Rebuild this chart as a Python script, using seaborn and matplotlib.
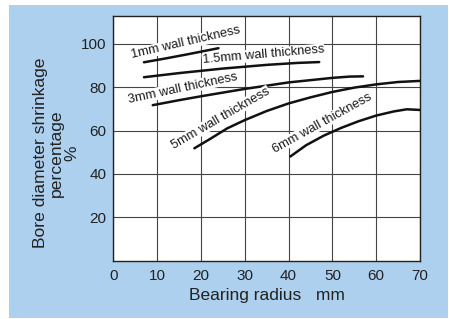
import pandas as pd
import matplotlib.pyplot as plt
import seaborn as sns
from matplotlib.patches import Rectangle

# Curve data
x_1mm = [7, 12, 17, 21, 24]
y_1mm = [91.5, 93.3, 95.2, 96.8, 98.0]

x_15mm = [7, 15, 25, 35, 42, 47]
y_15mm = [84.6, 86.5, 88.6, 90.3, 91.2, 91.6]

x_3mm = [9, 15, 20, 30, 40, 50, 54, 57]
y_3mm = [71.7, 74.0, 75.8, 79.2, 82.2, 84.3, 84.9, 85.0]

x_5mm = [18.5, 22, 26, 30, 35, 40, 45, 50, 55, 60, 65, 70]
y_5mm = [51.8, 56.0, 61.0, 64.8, 69.0, 72.5, 75.3, 77.8, 79.8, 81.3, 82.4, 82.9]

x_6mm = [40.4, 44, 48, 52, 56, 60, 64, 67, 70]
y_6mm = [48.0, 53.2, 57.6, 61.2, 64.3, 66.9, 68.8, 69.8, 69.5]

curve_labels = ["1mm wall thickness", "1.5mm wall thickness", "3mm wall thickness",
                "5mm wall thickness", "6mm wall thickness"]
x_ticks = [0, 10, 20, 30, 40, 50, 60, 70]
y_ticks = [20, 40, 60, 80, 100]

sns.set_theme(style="white")
plt.rcParams['font.family'] = ['Liberation Sans', 'DejaVu Sans']

fig = plt.figure(figsize=(4.49, 3.19), dpi=100, facecolor="white")
fig.patches.append(Rectangle((9 / 449, 1 - 318 / 319), 439 / 449, 313 / 319,
                             transform=fig.transFigure, facecolor="#add0ee",
                             edgecolor="none", zorder=-10))
ax = fig.add_axes([113.3 / 449, 1 - 260.5 / 319, 306.7 / 449, 244.8 / 319])
ax.set_facecolor("white")

curves = [(x_1mm, y_1mm), (x_15mm, y_15mm), (x_3mm, y_3mm), (x_5mm, y_5mm), (x_6mm, y_6mm)]
for xs, ys in curves:
    sns.lineplot(x=xs, y=ys, ax=ax, color="#111111", linewidth=1.8, zorder=3)

# rotated labels beside each curve
label_pos = [(16.6, 100.4, 13), (34.2, 94.9, 5), (15.8, 79.5, 12), (24.5, 65.7, 30), (47.6, 63.4, 29)]
for text, (lx, ly, rot) in zip(curve_labels, label_pos):
    ax.text(lx, ly, text, rotation=rot, ha="center", va="center", fontsize=9.3,
            color="#1a1a1a", zorder=4,
            bbox=dict(facecolor="white", edgecolor="none", pad=0.2))

ax.set_xlim(0, 70)
ax.set_ylim(0, 113)
ax.set_xticks(x_ticks)
ax.set_yticks(y_ticks)
ax.grid(True, color="#444444", linewidth=0.8)
ax.set_axisbelow(True)
for s in ax.spines.values():
    s.set_color("#222222")
    s.set_linewidth(1.0)
ax.tick_params(axis="both", length=0, labelsize=11, labelcolor="#222222")
ax.tick_params(axis="x", pad=6)
ax.tick_params(axis="y", pad=5)

ax.set_xlabel("Bearing radius   mm", fontsize=12.5, color="#222222", labelpad=4)
ax.set_ylabel("Bore diameter shrinkage\npercentage\n%", fontsize=12.6, color="#222222",
              linespacing=1.05)
ax.yaxis.set_label_coords(-0.11, 0.44)

fig.savefig("out.png", dpi=100, facecolor=fig.get_facecolor())
